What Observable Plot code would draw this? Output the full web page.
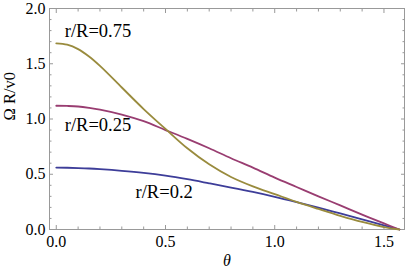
<!DOCTYPE html>
<html><head><meta charset="utf-8">
<script src="https://cdn.jsdelivr.net/npm/d3@7"></script>
<script src="https://cdn.jsdelivr.net/npm/@observablehq/plot@0.6"></script>
<style>
body{margin:0;background:#fff}
svg, svg text, svg g{font-family:"Liberation Serif",serif !important}
</style>
</head><body><div id="chart"></div>
<script>
const theta = [0, 0.05, 0.1, 0.15, 0.2, 0.3, 0.4, 0.5, 0.6, 0.7, 0.8, 0.9, 1.0, 1.1, 1.2, 1.3, 1.4, 1.5, 1.5708];
const series = ["r/R=0.2", "r/R=0.25", "r/R=0.75"];
const v02  = [0.560, 0.559, 0.556, 0.552, 0.546, 0.531, 0.512, 0.487, 0.455, 0.418, 0.380, 0.340, 0.296, 0.248, 0.198, 0.145, 0.092, 0.038, 0];
const v025 = [1.120, 1.118, 1.113, 1.101, 1.085, 1.040, 0.980, 0.900, 0.820, 0.735, 0.645, 0.560, 0.470, 0.385, 0.300, 0.218, 0.135, 0.055, 0];
const v075 = [1.685, 1.672, 1.632, 1.565, 1.480, 1.285, 1.090, 0.910, 0.735, 0.590, 0.475, 0.390, 0.320, 0.250, 0.186, 0.124, 0.068, 0.022, 0];
const xMajor = [0, 0.5, 1.0, 1.5];
const xMinor = [0.1, 0.2, 0.3, 0.4, 0.6, 0.7, 0.8, 0.9, 1.1, 1.2, 1.3, 1.4];
const yMajor = [0, 0.5, 1.0, 1.5, 2.0];
const yMinor = [0.1, 0.2, 0.3, 0.4, 0.6, 0.7, 0.8, 0.9, 1.1, 1.2, 1.3, 1.4, 1.6, 1.7, 1.8, 1.9];
const labelText = ["r/R=0.75", "r/R=0.25", "r/R=0.2"];
const labelX = [0.039, 0.039, 0.363];
const labelY = [1.80, 0.945, 0.337];
const colors = ["#3d3d99", "#993d71", "#998b3d"];

const rows = [];
[v02, v025, v075].forEach((vals, i) => theta.forEach((t, j) => rows.push({series: series[i], theta: t, v: vals[j]})));
const labels = labelText.map((t, i) => ({text: t, x: labelX[i], y: labelY[i]}));

const serif = "Liberation Serif";
const tickStroke = "#999";
const fmt = d3.format(".1f");
const chart = Plot.plot({
  width: 407, height: 274,
  marginLeft: 49, marginRight: 3, marginTop: 8, marginBottom: 45,
  style: {fontFamily: serif, fontSize: "15px", color: "#000", background: "#fff"},
  x: {domain: [-0.031, 1.594]},
  y: {domain: [0, 2]},
  color: {domain: series, range: colors},
  marks: [
    Plot.frame({stroke: tickStroke}),
    Plot.axisX(xMajor, {anchor: "bottom", tickSize: -4, tickPadding: 10, tickFormat: fmt, stroke: tickStroke, fill: "#000", fontSize: 16, label: null}),
    Plot.axisX(xMinor, {anchor: "bottom", tickSize: -2.5, fill: "none", stroke: tickStroke, label: null}),
    Plot.axisX(xMajor, {anchor: "top", tickSize: -4, fill: "none", stroke: tickStroke, label: null}),
    Plot.axisX(xMinor, {anchor: "top", tickSize: -2.5, fill: "none", stroke: tickStroke, label: null}),
    Plot.axisY(yMajor, {anchor: "left", tickSize: -4, tickPadding: 8, tickFormat: fmt, stroke: tickStroke, fill: "#000", fontSize: 16, label: null}),
    Plot.axisY(yMinor, {anchor: "left", tickSize: -2.5, fill: "none", stroke: tickStroke, label: null}),
    Plot.axisY(yMajor, {anchor: "right", tickSize: -4, fill: "none", stroke: tickStroke, label: null}),
    Plot.axisY(yMinor, {anchor: "right", tickSize: -2.5, fill: "none", stroke: tickStroke, label: null}),
    Plot.line(rows, {x: "theta", y: "v", stroke: "series", strokeWidth: 1.8, curve: "catmull-rom"}),
    Plot.text(labels, {x: "x", y: "y", text: "text", textAnchor: "start", fontSize: 18.5, fill: "#000"}),
    Plot.text(["θ"], {text: d => d, frameAnchor: "bottom", dy: 36, fontStyle: "italic", fontSize: 16, fill: "#000"}),
    Plot.text(["Ω R/v0"], {text: d => d, frameAnchor: "left", dx: -40, dy: 1.5, rotate: -90, fontSize: 16.5, fill: "#000"})
  ]
});
d3.select(chart).selectAll("text, g").attr("font-family", serif).style("font-family", serif).style("font-variant", "normal");
document.getElementById("chart").appendChild(chart);
</script>
</body></html>
